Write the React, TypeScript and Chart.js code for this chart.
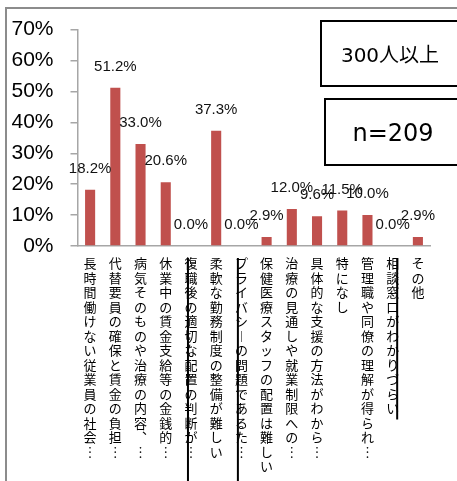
import React, { useEffect, useRef } from "react";
import { Chart, registerables } from "chart.js";

Chart.register(...registerables);

const categories: string[] = [
  "長時間働けない従業員の社会︙",
  "代替要員の確保と賃金の負担︙",
  "病気そのものや治療の内容︑︙",
  "休業中の賃金支給等の金銭的︙",
  "復職後の適切な配置の判断が︙",
  "柔軟な勤務制度の整備が難しい",
  "プライバシ︱の問題であるた︙",
  "保健医療スタッフの配置は難しい",
  "治療の見通しや就業制限への︙",
  "具体的な支援の方法がわから︙",
  "特になし",
  "管理職や同僚の理解が得られ︙",
  "相談窓口がわかりづらい",
  "その他",
];

const values: number[] = [18.2, 51.2, 33.0, 20.6, 0.0, 37.3, 0.0, 2.9, 12.0, 9.6, 11.5, 10.0, 0.0, 2.9];

const yTicks: number[] = [0, 10, 20, 30, 40, 50, 60, 70];

const groupLabel = "300人以上";
const sampleLabel = "n=209";

// decorative vertical strike lines seen over some category labels
const strikes = [
  { index: 4, dx: -3, toBottom: true },
  { index: 6, dx: -3.5, toBottom: true },
  { index: 12, dx: 4.5, toBottom: false },
];

const LINE_H = 14.5;

const valueLabelPlugin = {
  id: "valueLabels",
  afterDatasetsDraw(chart: any) {
    const ctx = chart.ctx;
    const meta = chart.getDatasetMeta(0);
    ctx.save();
    ctx.font = '15px "Liberation Sans", Arial, sans-serif';
    ctx.fillStyle = "#111";
    ctx.textAlign = "center";
    ctx.textBaseline = "middle";
    meta.data.forEach((bar: any, i: number) => {
      ctx.fillText(values[i].toFixed(1) + "%", bar.x, bar.y - 21);
    });
    ctx.restore();
  },
};

const strikePlugin = {
  id: "strikes",
  afterDraw(chart: any) {
    const ctx = chart.ctx;
    const xs = chart.scales.x;
    const top = chart.chartArea.bottom + 12;
    ctx.save();
    ctx.strokeStyle = "#000";
    ctx.lineWidth = 2;
    strikes.forEach((s) => {
      const x = xs.getPixelForTick(s.index) + s.dx;
      const n = Array.from(categories[s.index]).length;
      const bottom = s.toBottom ? chart.height : top + n * LINE_H + 2;
      ctx.beginPath();
      ctx.moveTo(x, top);
      ctx.lineTo(x, bottom);
      ctx.stroke();
    });
    ctx.restore();
  },
};

export default function App() {
  const ref = useRef<HTMLCanvasElement | null>(null);

  useEffect(() => {
    if (!ref.current) return;
    const chart = new Chart(ref.current, {
      type: "bar",
      data: {
        labels: categories.map((c) => Array.from(c)),
        datasets: [
          {
            data: values,
            backgroundColor: "#c0504d",
            barPercentage: 0.4,
            categoryPercentage: 1,
          },
        ],
      },
      options: {
        animation: false,
        responsive: false,
        devicePixelRatio: 1,
        layout: { padding: { top: 27, right: 26.5, left: 0, bottom: 0 } },
        plugins: { legend: { display: false }, tooltip: { enabled: false } },
        scales: {
          x: {
            grid: { display: false, drawTicks: false },
            border: { color: "#a6a6a6", width: 1.5 },
            ticks: {
              autoSkip: false,
              maxRotation: 0,
              minRotation: 0,
              padding: 10,
              color: "#000",
              font: { family: '"Noto Sans CJK JP", sans-serif', size: 13, lineHeight: LINE_H / 13 },
            },
            afterFit: (s: any) => {
              s.height = 235;
            },
          },
          y: {
            min: 0,
            max: 70,
            afterBuildTicks: (s: any) => {
              s.ticks = yTicks.map((v) => ({ value: v }));
            },
            grid: {
              drawOnChartArea: false,
              drawTicks: true,
              tickLength: 7,
              color: "#a6a6a6",
              lineWidth: 1.5,
            },
            border: { color: "#a6a6a6", width: 1.5 },
            ticks: {
              padding: 17,
              color: "#000",
              font: { family: '"Liberation Sans", Arial, sans-serif', size: 21 },
              callback: (v: any) => v + "%",
            },
            afterFit: (s: any) => {
              s.width = 77.5;
            },
          },
        },
      },
      plugins: [valueLabelPlugin, strikePlugin],
    });
    return () => chart.destroy();
  }, []);

  const boxText: React.CSSProperties = {
    position: "absolute",
    fontFamily: '"DejaVu Sans", "Noto Sans CJK JP", sans-serif',
    color: "#000",
    textAlign: "center",
    whiteSpace: "nowrap",
  };

  return (
    <div
      style={{
        position: "absolute",
        left: 0,
        top: 0,
        width: 457,
        height: 481,
        overflow: "hidden",
        background: "#fff",
      }}
    >
      <div
        style={{
          position: "absolute",
          left: 5,
          top: 7,
          width: 470,
          height: 500,
          border: "2px solid #8c8c8c",
          boxSizing: "border-box",
        }}
      />
      <canvas ref={ref} width={457} height={481} style={{ position: "absolute", left: 0, top: 0 }} />
      <div
        style={{
          position: "absolute",
          left: 320,
          top: 20,
          width: 160,
          height: 67,
          border: "2px solid #000",
          boxSizing: "border-box",
        }}
      />
      <div style={{ ...boxText, left: 320, width: 140, top: 42, fontSize: 20, lineHeight: "26px" }}>{groupLabel}</div>
      <div
        style={{
          position: "absolute",
          left: 324,
          top: 98,
          width: 160,
          height: 68,
          border: "2px solid #000",
          boxSizing: "border-box",
        }}
      />
      <div style={{ ...boxText, left: 324, width: 138, top: 117, fontSize: 24, lineHeight: "32px" }}>{sampleLabel}</div>
    </div>
  );
}
